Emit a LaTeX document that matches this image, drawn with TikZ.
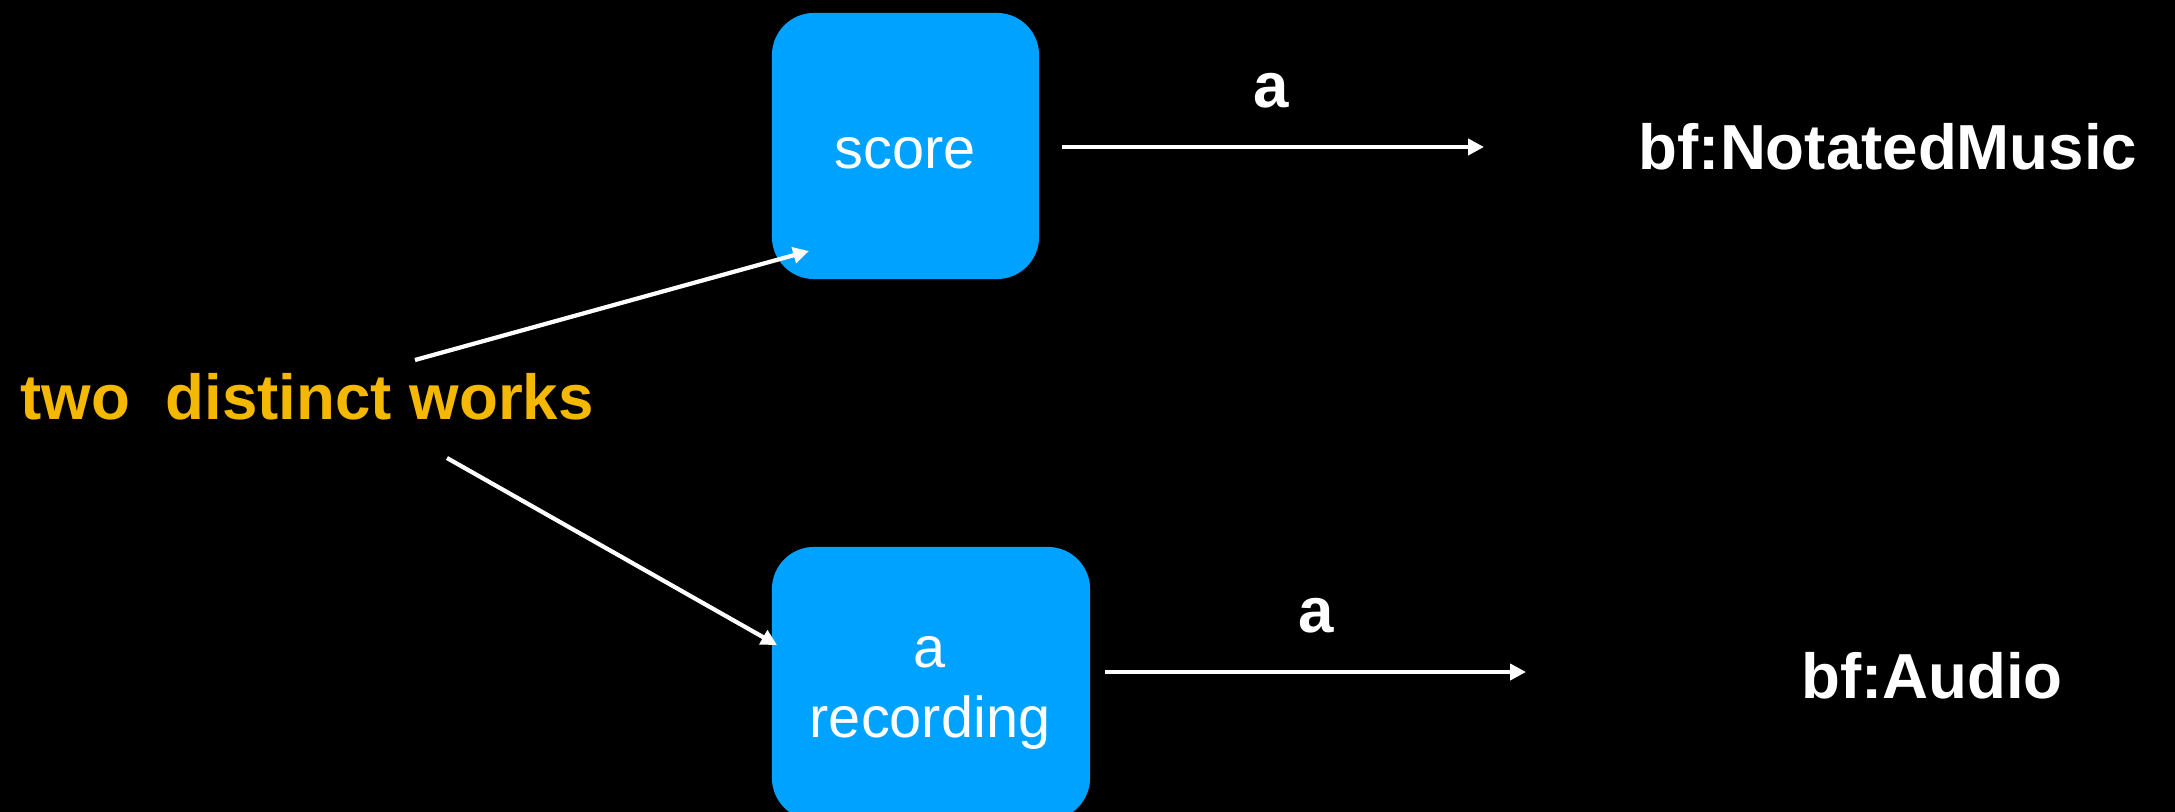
\documentclass[tikz,border=0pt]{standalone}
\usepackage{fontspec}
\setmainfont{Liberation Sans}
\usetikzlibrary{arrows.meta}
\definecolor{boxblue}{RGB}{0,162,255}
\definecolor{workgold}{RGB}{245,184,0}
\begin{document}
\begin{tikzpicture}[x=0.01cm,y=-0.01cm,
  wbox/.style={fill=boxblue, draw=none, rounded corners=12pt, inner sep=0pt},
  boxtext/.style={text=white, font=\fontsize{16.4}{19.9}\selectfont, align=center, inner sep=0pt},
  lbl/.style={text=white, font=\fontsize{18.1}{21}\selectfont\bfseries, inner sep=0pt},
  arr/.style={draw=white, line width=1.2pt, -{Triangle[length=4.5pt,width=4.5pt]}}]
\fill[black] (0,0) rectangle (2175,812);
\useasboundingbox (0,0) rectangle (2175,812);
% boxes
\node[wbox, minimum width=2.67cm, minimum height=2.66cm] (scorebox) at (905.5,146) {};
\node[boxtext, anchor=base] (score) at (905,168) {score};
\node[wbox, minimum width=3.18cm, minimum height=2.73cm] (recbox) at (931,683.5) {};
\node[boxtext, anchor=base] (rec) at (930,737) {a\\recording};
% texts
\node[lbl, text=workgold, anchor=base west] (works) at (20,419) {two\ \ distinct works};
\node[lbl, anchor=base] (a1) at (1271,107) {a};
\node[lbl, anchor=base] (a2) at (1316,632) {a};
\node[lbl, anchor=base] (notated) at (1888,169) {bf:NotatedMusic};
\node[lbl, anchor=base] (audio) at (1932,698) {bf:Audio};
% arrow ends
\coordinate (w1) at (415,360);
\coordinate (w2) at (447,458);
\coordinate (s1) at (809,251);
\coordinate (r1) at (777,645);
\coordinate (so) at (1062,147);
\coordinate (si) at (1484,147);
\coordinate (ro) at (1105,672);
\coordinate (ri) at (1526,672);
\draw[arr] (w1) -- (s1);
\draw[arr] (w2) -- (r1);
\draw[arr] (so) -- (si);
\draw[arr] (ro) -- (ri);
\end{tikzpicture}
\end{document}
